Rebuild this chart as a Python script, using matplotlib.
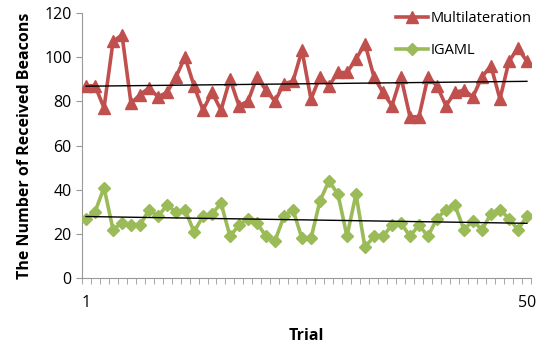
import numpy as np
import matplotlib
matplotlib.use("Agg")
import matplotlib.pyplot as plt
from matplotlib.ticker import FixedLocator, NullFormatter

trials = list(range(1, 51))
multilateration = [87, 87, 77, 107, 110, 79, 83, 86, 82, 84,
                   91, 100, 87, 76, 84, 76, 90, 78, 80, 91,
                   85, 80, 88, 89, 103, 81, 91, 87, 93, 93,
                   99, 106, 91, 84, 78, 91, 73, 73, 91, 87,
                   78, 84, 85, 82, 91, 96, 81, 98, 104, 98]
igaml = [27, 30, 41, 22, 25, 24, 24, 31, 28, 33,
         30, 31, 21, 28, 29, 34, 19, 24, 27, 25,
         19, 17, 28, 31, 18, 18, 35, 44, 38, 19,
         38, 14, 19, 19, 24, 25, 19, 24, 19, 27,
         31, 33, 22, 26, 22, 29, 31, 27, 22, 28]
series_names = ["Multilateration", "IGAML"]
y_ticks = [0, 20, 40, 60, 80, 100, 120]
x_ticklabels = {1: "1", 50: "50"}

plt.rcParams['font.family'] = ['Open Sans', 'DejaVu Sans']

fig = plt.figure(figsize=(5.49, 3.44), dpi=100)
ax = fig.add_axes([0.1485, 0.191, 0.8195, 0.772])

red = "#C0504D"
green = "#9BBB59"

x = np.array(trials)
ax.plot(x, multilateration, color=red, lw=2.6, marker="^", ms=8,
        label=series_names[0], zorder=3)
ax.plot(x, igaml, color=green, lw=2.6, marker="D", ms=6,
        label=series_names[1], zorder=3)

for vals in (multilateration, igaml):
    k, b = np.polyfit(x, vals, 1)
    ax.plot([x[0], x[-1]], [k * x[0] + b, k * x[-1] + b],
            color="black", lw=1.0, zorder=4)

ax.set_xlim(0.5, 50.5)
ax.set_ylim(0, 120)
ax.set_yticks(y_ticks)
ax.tick_params(axis="y", direction="out", length=4, color="#999999",
               labelsize=11.5, pad=3)
ax.xaxis.set_major_locator(FixedLocator(list(x_ticklabels.keys())))
ax.set_xticklabels(list(x_ticklabels.values()))
ax.tick_params(axis="x", which="major", length=0, labelsize=11.5, pad=12)
ax.xaxis.set_minor_locator(FixedLocator(np.arange(0.5, 51, 1)))
ax.xaxis.set_minor_formatter(NullFormatter())
ax.tick_params(axis="x", which="minor", direction="out", length=4,
               color="#999999")

for s in ("top", "right"):
    ax.spines[s].set_visible(False)
for s in ("left", "bottom"):
    ax.spines[s].set_color("#999999")

ax.set_ylabel("The Number of Received Beacons", fontsize=11.5,
              fontweight="bold", labelpad=8)
ax.set_xlabel("Trial", fontsize=11.5, fontweight="bold", labelpad=12)

leg = fig.legend(*ax.get_legend_handles_labels(), loc="upper left",
                 bbox_to_anchor=(396 / 549, 1 - 11 / 344), frameon=False,
                 fontsize=10.5, handlelength=2.2, labelspacing=1.2,
                 handletextpad=0.15, borderpad=0, borderaxespad=0)

fig.savefig("out.png", dpi=100)
